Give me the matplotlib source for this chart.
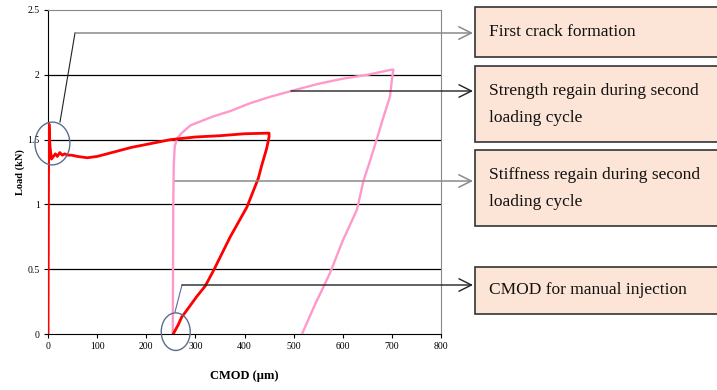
import matplotlib.pyplot as plt
import matplotlib.patches as mpatches

plt.rcParams["font.family"] = ["Liberation Serif", "DejaVu Serif"]

RED, PINK, RING = "#ff0000", "#ff99cc", "#5a6e8c"

# first loading cycle (red): CMOD (um), load (kN)
cmod_1 = [0, 1, 2, 4, 7, 11, 15, 19, 24, 29, 34, 40, 48, 60, 80, 100, 130, 170, 210, 250, 300, 350, 400, 450,
          450, 445, 435, 428, 405, 371, 337, 320, 303, 280, 272, 265, 262, 255]
load_1 = [0, 1.2, 1.62, 1.45, 1.35, 1.37, 1.39, 1.37, 1.40, 1.38, 1.39, 1.38, 1.38, 1.37, 1.36, 1.37, 1.40,
          1.44, 1.47, 1.50, 1.52, 1.53, 1.545, 1.55,
          1.52, 1.43, 1.30, 1.20, 0.98, 0.75, 0.49, 0.37, 0.29, 0.17, 0.13, 0.07, 0.05, 0.0]

# second loading cycle (pink)
cmod_2 = [254, 254.5, 255, 256, 258, 263, 272, 290, 310, 337, 371, 411, 452, 500, 550, 600, 650, 700, 703,
          700, 696, 685, 669, 655, 642, 629, 600, 574, 554, 545, 517]
load_2 = [0, 0.5, 1.0, 1.3, 1.45, 1.51, 1.55, 1.61, 1.64, 1.68, 1.72, 1.78, 1.83, 1.88, 1.93, 1.97, 2.00,
          2.04, 2.04,
          1.96, 1.83, 1.70, 1.50, 1.33, 1.18, 0.96, 0.72, 0.47, 0.31, 0.24, 0.0]

x_ticks = [0, 100, 200, 300, 400, 500, 600, 700, 800]
y_ticks = [0, 0.5, 1, 1.5, 2, 2.5]
y_labels = ["0", "0.5", "1", "1.5", "2", "2.5"]

notes = [("First crack formation", ""),
         ("Strength regain during second", "loading cycle"),
         ("Stiffness regain during second", "loading cycle"),
         ("CMOD for manual injection", "")]

W, H = 717, 390
fig = plt.figure(figsize=(W / 100, H / 100), dpi=100)
ax = fig.add_axes([48 / W, 1 - 334 / H, (441 - 48) / W, (334 - 10) / H])

for y in y_ticks[1:-1]:
    ax.axhline(y, color="black", lw=0.9, zorder=1)
ax.plot(cmod_2, load_2, color=PINK, lw=1.7, zorder=3)
ax.plot(cmod_1, load_1, color=RED, lw=2.0, zorder=4)

ax.set_xlim(0, 800); ax.set_ylim(0, 2.5)
ax.set_xticks(x_ticks); ax.set_yticks(y_ticks); ax.set_yticklabels(y_labels)
ax.tick_params(labelsize=7, length=3, width=0.8, direction="out", pad=3)
ax.spines[["top", "right"]].set_color("#888888")
ax.spines[["left", "bottom"]].set_color("black")
ax.set_xlabel("CMOD (\u00b5m)", fontsize=9, fontweight="bold")
ax.set_ylabel("Load (kN)", fontsize=7.5, fontweight="bold")
ax.xaxis.set_label_coords(0.5, -0.112)
ax.yaxis.set_label_coords(-0.058, 0.5)

# circled regions
ax.add_patch(mpatches.Ellipse((9, 1.47), 71, 0.33, fill=False, ec=RING, lw=1.0, clip_on=False, zorder=5))
ax.add_patch(mpatches.Ellipse((260, 0.018), 59, 0.29, fill=False, ec=RING, lw=1.0,
                              clip_on=False, zorder=5))

# overlay in pixel coordinates for callouts
ov = fig.add_axes([0, 0, 1, 1], zorder=10)
ov.set_xlim(0, W); ov.set_ylim(H, 0); ov.axis("off")

arrow_kw = dict(arrowstyle="->,head_length=0.9,head_width=0.45", shrinkA=0, shrinkB=0)
# first crack
ov.plot([60, 75], [122, 33], color="#222222", lw=0.8)
ov.annotate("", xy=(473, 33), xytext=(75, 33), arrowprops=dict(color="#8a8a8a", lw=1.1, **arrow_kw))
# strength regain
ov.annotate("", xy=(473, 91), xytext=(291, 91), arrowprops=dict(color="#222222", lw=1.0, **arrow_kw))
# stiffness regain
ov.annotate("", xy=(473, 181), xytext=(175, 181), arrowprops=dict(color="#8a8a8a", lw=1.1, **arrow_kw))
# manual injection
ov.plot([175, 182], [312, 285], color="#4f6fa0", lw=0.8)
ov.annotate("", xy=(473, 285), xytext=(182, 285), arrowprops=dict(color="#222222", lw=1.0, **arrow_kw))

boxes = [(7, 57), (66, 142), (150, 226), (267, 314)]
for (top, bot), (l1, l2) in zip(boxes, notes):
    ov.add_patch(mpatches.Rectangle((475, top), 260, bot - top, facecolor="#fce4d6",
                                    edgecolor="#333333", lw=1.2, clip_on=False))
    if l2:
        ov.text(489, top + 25, l1, fontsize=12.5, color="#111111", va="center")
        ov.text(489, top + 52, l2, fontsize=12.5, color="#111111", va="center")
    else:
        ov.text(489, (top + bot) / 2, l1, fontsize=12.5, color="#111111", va="center")

fig.savefig("out.png", dpi=100)
